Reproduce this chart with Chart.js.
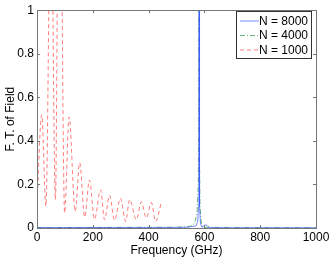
<!DOCTYPE html>
<html>
<head>
<meta charset="utf-8">
<script src="https://cdn.jsdelivr.net/npm/chart.js@4"></script>
<style>
  html, body { margin: 0; padding: 0; background: #fff; }
  #wrap { width: 332px; height: 258px; }
</style>
</head>
<body>
<div id="wrap"><canvas id="myChart" width="332" height="258"></canvas></div>
<script>
const xTicks = [0, 200, 400, 600, 800, 1000];
const yTicks = [0, 0.2, 0.4, 0.6, 0.8, 1];

const redFreq = [0, 17, 32, 50, 66, 80, 99, 115, 137, 153, 171, 188, 206, 228, 242, 260, 278, 299, 318, 332, 356, 374, 392, 410, 425, 446];
const redValue = [0.12, 0.52, 0.10, 1.6, 0.13, 2.2, 0.07, 0.51, 0.076, 0.30, 0.05, 0.22, 0.04, 0.175, 0.038, 0.15, 0.035, 0.137, 0.03, 0.13, 0.038, 0.12, 0.046, 0.117, 0.03, 0.12];

const greenFreq = [0, 500, 550, 560, 568, 574, 578, 580, 581, 582, 584, 590, 600, 1000];
const greenValue = [0.002, 0.003, 0.008, 0.015, 0.035, 0.08, 0.2, 0.5, 8, 0.4, 0.1, 0.01, 0.003, 0.001];

const blueFreq = [0, 540, 570, 576, 579, 580, 581, 582, 583, 586, 592, 600, 606, 612, 620, 700, 1000];
const blueValue = [0.002, 0.003, 0.01, 0.03, 0.1, 0.3, 8, 0.3, 0.1, 0.02, 0.003, 0.012, 0.015, 0.008, 0.002, 0.001, 0.001];

const pts = (xs, ys) => xs.map((x, i) => ({ x: x, y: ys[i] }));

const data = {
    datasets: [{
        label: 'N = 8000',
        data: pts(blueFreq, blueValue),
        borderColor: 'rgba(60, 90, 255, 0.7)',
        borderWidth: 1,
        pointRadius: 0,
        tension: 0,
    },
    {
        label: 'N = 4000',
        data: pts(greenFreq, greenValue),
        borderColor: 'rgba(40, 150, 60, 0.7)',
        borderWidth: 1,
        borderDash: [5, 2, 1, 2],
        pointRadius: 0,
        tension: 0,
    },
    {
        label: 'N = 1000',
        data: pts(redFreq, redValue),
        borderColor: 'rgba(255, 70, 70, 0.7)',
        borderWidth: 1,
        borderDash: [4, 3],
        pointRadius: 0,
        cubicInterpolationMode: 'monotone',
    }]
};

const font = { family: '"Liberation Sans", Arial, sans-serif', size: 12 };

// matlab style box, inward ticks and legend
const boxPlugin = {
    id: 'boxPlugin',
    afterDatasetsDraw(chart) {
        const { ctx, chartArea: a, scales } = chart;
        ctx.save();
        ctx.strokeStyle = '#777';
        ctx.lineWidth = 1;
        ctx.strokeRect(Math.round(a.left) + 0.5, Math.round(a.top) + 0.5,
            Math.round(a.right - a.left), Math.round(a.bottom - a.top));
        ctx.beginPath();
        xTicks.forEach(v => {
            const x = Math.round(scales.x.getPixelForValue(v)) + 0.5;
            ctx.moveTo(x, a.bottom); ctx.lineTo(x, a.bottom - 3);
            ctx.moveTo(x, a.top); ctx.lineTo(x, a.top + 3);
        });
        yTicks.forEach(v => {
            const y = Math.round(scales.y.getPixelForValue(v)) + 0.5;
            ctx.moveTo(a.left, y); ctx.lineTo(a.left + 3, y);
            ctx.moveTo(a.right, y); ctx.lineTo(a.right - 3, y);
        });
        ctx.stroke();

        // legend
        const lx = 236, ly = 11, lw = 75, lh = 47;
        ctx.fillStyle = '#fff';
        ctx.fillRect(lx, ly, lw, lh);
        ctx.strokeStyle = '#333';
        ctx.strokeRect(lx + 0.5, ly + 0.5, lw, lh);
        ctx.font = '12px ' + font.family;
        ctx.textBaseline = 'middle';
        chart.data.datasets.forEach((ds, i) => {
            const y = ly + 9.5 + i * 14.5;
            ctx.strokeStyle = ds.borderColor;
            ctx.setLineDash(ds.borderDash || []);
            ctx.beginPath();
            ctx.moveTo(lx + 4, y + 0.5); ctx.lineTo(lx + 23, y + 0.5);
            ctx.stroke();
            ctx.setLineDash([]);
            ctx.fillStyle = '#000';
            ctx.fillText(ds.label, lx + 23, y + 1);
        });
        ctx.restore();
    }
};

const config = {
    type: 'line',
    data: data,
    options: {
        responsive: false,
        animation: false,
        layout: { padding: { left: 3, right: 16, top: 9, bottom: 0 } },
        plugins: { legend: { display: false }, tooltip: { enabled: false } },
        scales: {
            x: {
                type: 'linear',
                min: 0, max: 1000,
                afterBuildTicks: s => { s.ticks = xTicks.map(v => ({ value: v })); },
                afterFit: s => { s.height = 30; },
                grid: { display: false, drawTicks: false },
                border: { display: false },
                ticks: { color: '#000', font: font, padding: 2, maxRotation: 0, callback: v => String(v) },
                title: { display: true, text: 'Frequency (GHz)', color: '#000', font: font, padding: 0 }
            },
            y: {
                min: 0, max: 1,
                afterBuildTicks: s => { s.ticks = yTicks.map(v => ({ value: v })); },
                afterFit: s => { s.width = 34; },
                grid: { display: false, drawTicks: false },
                border: { display: false },
                ticks: { color: '#000', font: font, padding: 3, callback: v => String(+v.toFixed(1)) },
                title: { display: true, text: 'F. T. of Field', color: '#000', font: font, padding: 0 }
            }
        }
    },
    plugins: [boxPlugin]
};

new Chart(document.getElementById('myChart'), config);
</script>
</body>
</html>
